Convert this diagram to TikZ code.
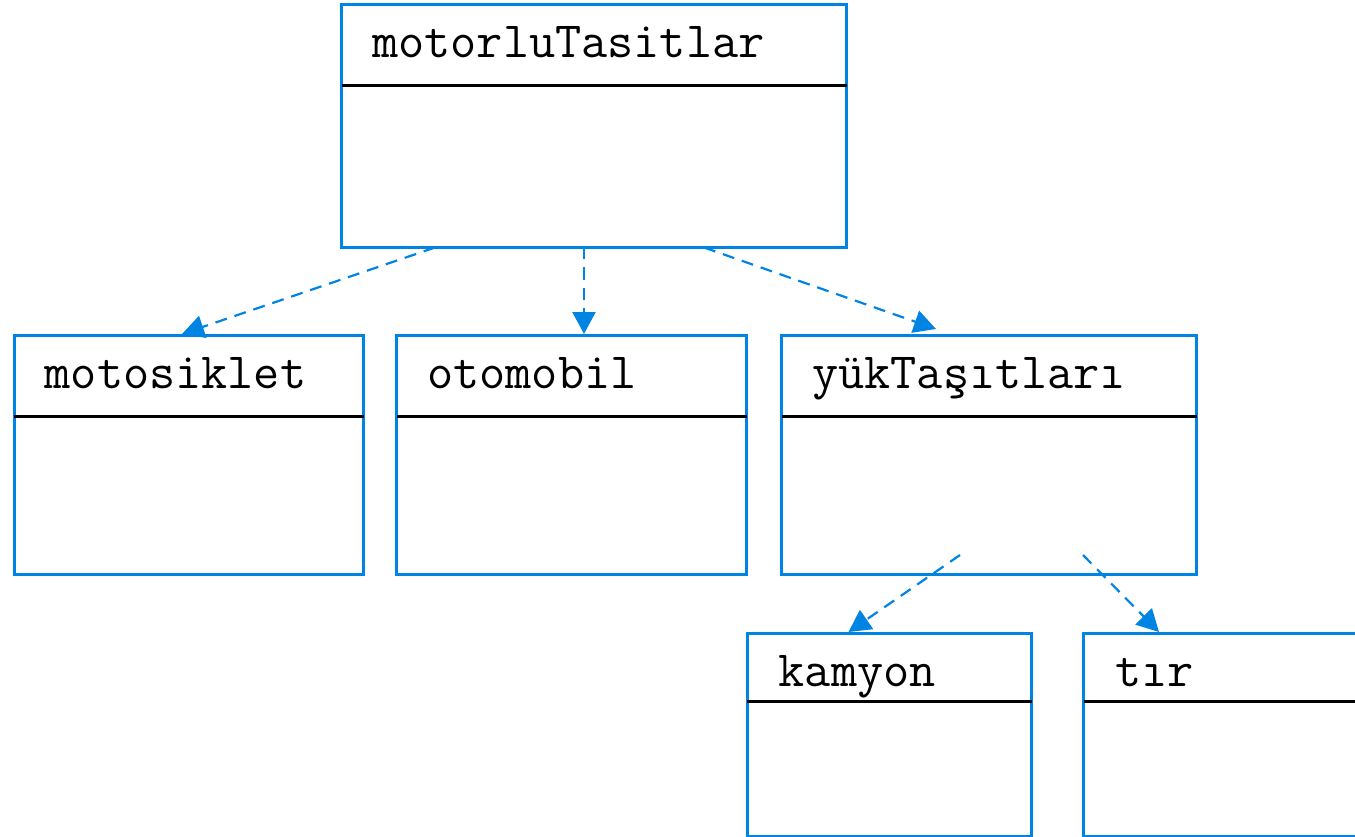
\documentclass[tikz,border=0pt]{standalone}
\usepackage{fontspec}
\usetikzlibrary{arrows.meta}
\definecolor{umlblue}{RGB}{0,132,227}
\newfontfamily\classfont{Latin Modern Mono}
\tikzset{
  classbox/.style={draw=umlblue, line width=3pt, rectangle, anchor=north west,
    inner sep=0pt, outer sep=0pt},
  classname/.style={anchor=base west, inner sep=0pt,
    font=\classfont\fontsize{50.8}{51}\selectfont},
  divider/.style={draw=black, line width=3pt},
  realizes/.style={draw=umlblue, line width=2.2pt, dash pattern=on 12pt off 8pt,
    -{Triangle[length=22pt,width=23pt]}},
}
\begin{document}
\begin{tikzpicture}[x=1pt,y=-1pt]
  \useasboundingbox (0,0) rectangle (1355,837);
  \clip (0,0) rectangle (1355,837);

  % class boxes
  \node[classbox, minimum width=505pt, minimum height=243pt] (top)  at (341.5,4.5)   {};
  \node[classbox, minimum width=349.5pt, minimum height=239pt] (moto) at (14,335.5)   {};
  \node[classbox, minimum width=350pt, minimum height=239pt] (oto)  at (396.5,335.5) {};
  \node[classbox, minimum width=415pt, minimum height=239pt] (yuk)  at (781.5,335.5) {};
  \node[classbox, minimum width=284.5pt, minimum height=202.5pt] (kam) at (747,633.5) {};
  \node[classbox, minimum width=400pt, minimum height=202.5pt] (tir)  at (1083.5,633.5) {};

  % name compartments
  \draw[divider] ([yshift=-81pt]top.north west)  -- ([yshift=-81pt]top.north east);
  \draw[divider] ([yshift=-81pt]moto.north west) -- ([yshift=-81pt]moto.north east);
  \draw[divider] ([yshift=-81pt]oto.north west)  -- ([yshift=-81pt]oto.north east);
  \draw[divider] ([yshift=-81pt]yuk.north west)  -- ([yshift=-81pt]yuk.north east);
  \draw[divider] ([yshift=-68pt]kam.north west)  -- ([yshift=-68pt]kam.north east);
  \draw[divider] ([yshift=-68pt]tir.north west)  -- ([yshift=-68pt]tir.north east);

  % class names
  \node[classname] (topname)  at ([xshift=30.5pt,yshift=-53.5pt]top.north west)  {motorluTasitlar};
  \node[classname] (motoname) at ([xshift=30.5pt,yshift=-52.5pt]moto.north west) {motosiklet};
  \node[classname] (otoname)  at ([xshift=30.5pt,yshift=-52.5pt]oto.north west)  {otomobil};
  \node[classname] (yukname)  at ([xshift=30.5pt,yshift=-52.5pt]yuk.north west)  {yükTaşıtları};
  \node[classname] (kamname)  at ([xshift=31.5pt,yshift=-52.5pt]kam.north west)  {kamyon};
  \node[classname] (tirname)  at ([xshift=31.5pt,yshift=-52.5pt]tir.north west)  {tır};

  % connector end points
  \coordinate (topL) at ([xshift=93.5pt]top.south west);
  \coordinate (topM) at ([xshift=242.5pt]top.south west);
  \coordinate (topR) at ([xshift=362.5pt]top.south west);
  \coordinate (motoT) at ([xshift=168pt,yshift=1.5pt]moto.north west);
  \coordinate (otoT)  at ([xshift=187.5pt,yshift=1.5pt]oto.north west);
  \coordinate (yukT)  at ([xshift=154.5pt,yshift=6.5pt]yuk.north west);
  \coordinate (yukL) at ([xshift=178.5pt,yshift=19.5pt]yuk.south west);
  \coordinate (yukR) at ([xshift=301.5pt,yshift=19.5pt]yuk.south west);
  \coordinate (kamT) at ([xshift=101.5pt,yshift=1.5pt]kam.north west);
  \coordinate (tirT) at ([xshift=75.5pt,yshift=1.5pt]tir.north west);

  % dashed arrows
  \draw[realizes] (topL) -- (motoT);
  \draw[realizes] (topM) -- (otoT);
  \draw[realizes] (topR) -- (yukT);
  \draw[realizes] (yukL) -- (kamT);
  \draw[realizes] (yukR) -- (tirT);
\end{tikzpicture}
\end{document}
